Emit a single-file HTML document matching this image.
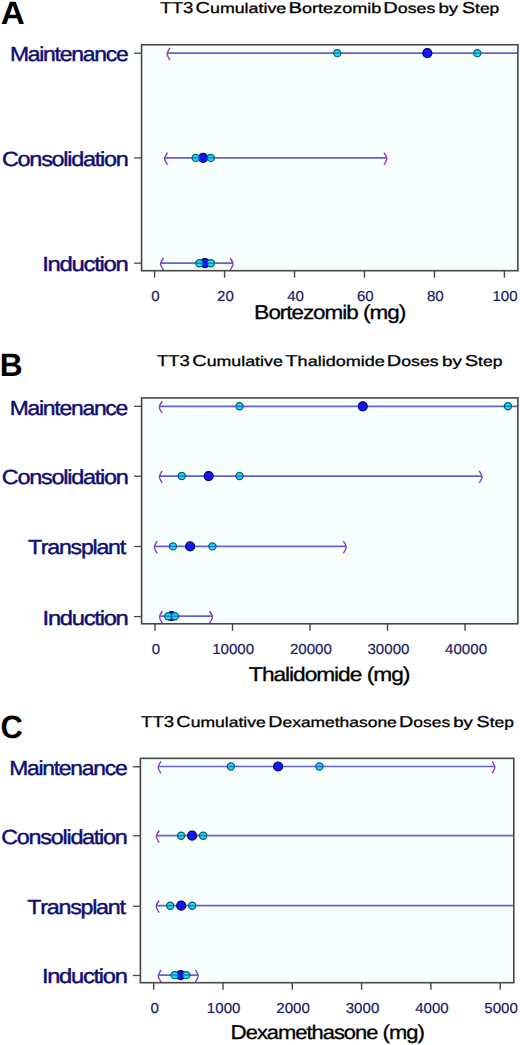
<!DOCTYPE html>
<html><head><meta charset="utf-8"><title>TT3 Cumulative Doses by Step</title>
<style>
html,body{margin:0;padding:0;background:#fff;}
body{width:520px;height:1045px;overflow:hidden;}
svg{display:block;font-family:"Liberation Sans", sans-serif;text-rendering:geometricPrecision;}
</style></head><body>
<svg width="520" height="1045" viewBox="0 0 520 1045">
<rect x="141.55" y="44.75" width="376.35" height="225.95" fill="#f6fffe"/>
<line x1="167.2" y1="53.15" x2="517.9" y2="53.15" stroke="#6462c8" stroke-width="1.7"/>
<path d="M170,47.95 C168,51 167.2,52.8 167.2,54 C167.2,55.2 168,57 170,60.05" fill="none" stroke="#8a3cc8" stroke-width="1.4"/>
<circle cx="427.3" cy="53.15" r="4.5" fill="#1616f0" stroke="#00006a" stroke-width="1.2"/>
<circle cx="337.3" cy="53.15" r="3.6" fill="#24d6f2" stroke="#00606e" stroke-width="1.2"/>
<line x1="334" y1="53.15" x2="340.6" y2="53.15" stroke="#1a50d0" stroke-width="1.3" opacity="0.75"/>
<circle cx="477.3" cy="53.15" r="3.6" fill="#24d6f2" stroke="#00606e" stroke-width="1.2"/>
<line x1="474" y1="53.15" x2="480.6" y2="53.15" stroke="#1a50d0" stroke-width="1.3" opacity="0.75"/>
<line x1="164.65" y1="157.9" x2="386.8" y2="157.9" stroke="#6462c8" stroke-width="1.7"/>
<path d="M167.45,152.7 C165.45,155.75 164.65,157.55 164.65,158.75 C164.65,159.95 165.45,161.75 167.45,164.8" fill="none" stroke="#8a3cc8" stroke-width="1.4"/>
<path d="M384,152.7 C386,155.75 386.8,157.55 386.8,158.75 C386.8,159.95 386,161.75 384,164.8" fill="none" stroke="#8a3cc8" stroke-width="1.4"/>
<circle cx="203.1" cy="157.9" r="4.5" fill="#1616f0" stroke="#00006a" stroke-width="1.2"/>
<circle cx="195.7" cy="157.9" r="3.6" fill="#24d6f2" stroke="#00606e" stroke-width="1.2"/>
<line x1="192.4" y1="157.9" x2="199" y2="157.9" stroke="#1a50d0" stroke-width="1.3" opacity="0.75"/>
<circle cx="210.8" cy="157.9" r="3.6" fill="#24d6f2" stroke="#00606e" stroke-width="1.2"/>
<line x1="207.5" y1="157.9" x2="214.1" y2="157.9" stroke="#1a50d0" stroke-width="1.3" opacity="0.75"/>
<line x1="160.6" y1="263.2" x2="233" y2="263.2" stroke="#6462c8" stroke-width="1.7"/>
<path d="M163.4,258 C161.4,261.05 160.6,262.85 160.6,264.05 C160.6,265.25 161.4,267.05 163.4,270.1" fill="none" stroke="#8a3cc8" stroke-width="1.4"/>
<path d="M230.2,258 C232.2,261.05 233,262.85 233,264.05 C233,265.25 232.2,267.05 230.2,270.1" fill="none" stroke="#8a3cc8" stroke-width="1.4"/>
<circle cx="204.9" cy="263.2" r="4.5" fill="#1616f0" stroke="#00006a" stroke-width="1.2"/>
<circle cx="199.3" cy="263.2" r="3.6" fill="#24d6f2" stroke="#00606e" stroke-width="1.2"/>
<line x1="196" y1="263.2" x2="202.6" y2="263.2" stroke="#1a50d0" stroke-width="1.3" opacity="0.75"/>
<circle cx="210.9" cy="263.2" r="3.6" fill="#24d6f2" stroke="#00606e" stroke-width="1.2"/>
<line x1="207.6" y1="263.2" x2="214.2" y2="263.2" stroke="#1a50d0" stroke-width="1.3" opacity="0.75"/>
<rect x="141.55" y="44.75" width="376.35" height="225.95" fill="none" stroke="#464646" stroke-width="1.6"/>
<line x1="134.05" y1="53.2" x2="141.55" y2="53.2" stroke="#464646" stroke-width="1.3"/>
<line x1="134.05" y1="157.9" x2="141.55" y2="157.9" stroke="#464646" stroke-width="1.3"/>
<line x1="134.05" y1="263.2" x2="141.55" y2="263.2" stroke="#464646" stroke-width="1.3"/>
<text transform="translate(9.88,61.1) scale(1.1234,1)" font-size="20.4" fill="#0e0e72" stroke="#0e0e72" stroke-width="0.42" letter-spacing="-1.1" style="font-kerning:none">Maintenance</text>
<text transform="translate(1.94,166) scale(1.1493,1)" font-size="20.4" fill="#0e0e72" stroke="#0e0e72" stroke-width="0.42" letter-spacing="-1.1" style="font-kerning:none">Consolidation</text>
<text transform="translate(42.26,271.2) scale(1.1704,1)" font-size="20.4" fill="#0e0e72" stroke="#0e0e72" stroke-width="0.42" letter-spacing="-1.1" style="font-kerning:none">Induction</text>
<line x1="154.6" y1="270.7" x2="154.6" y2="277.7" stroke="#464646" stroke-width="1.4"/>
<text transform="translate(151.32,301.2) scale(1.0400,1)" font-size="14.5" fill="#1c1c66" stroke="#1c1c66" stroke-width="0.2">0</text>
<line x1="224.56" y1="270.7" x2="224.56" y2="277.7" stroke="#464646" stroke-width="1.4"/>
<text transform="translate(217.02,301.2) scale(1.0400,1)" font-size="14.5" fill="#1c1c66" stroke="#1c1c66" stroke-width="0.2">20</text>
<line x1="294.52" y1="270.7" x2="294.52" y2="277.7" stroke="#464646" stroke-width="1.4"/>
<text transform="translate(287.16,301.2) scale(1.0400,1)" font-size="14.5" fill="#1c1c66" stroke="#1c1c66" stroke-width="0.2">40</text>
<line x1="364.48" y1="270.7" x2="364.48" y2="277.7" stroke="#464646" stroke-width="1.4"/>
<text transform="translate(356.94,301.2) scale(1.0400,1)" font-size="14.5" fill="#1c1c66" stroke="#1c1c66" stroke-width="0.2">60</text>
<line x1="434.44" y1="270.7" x2="434.44" y2="277.7" stroke="#464646" stroke-width="1.4"/>
<text transform="translate(426.93,301.2) scale(1.0400,1)" font-size="14.5" fill="#1c1c66" stroke="#1c1c66" stroke-width="0.2">80</text>
<line x1="504.4" y1="270.7" x2="504.4" y2="277.7" stroke="#464646" stroke-width="1.4"/>
<text transform="translate(492.48,301.2) scale(1.0400,1)" font-size="14.5" fill="#1c1c66" stroke="#1c1c66" stroke-width="0.2">100</text>
<text transform="translate(254.12,318.8) scale(1.1450,1)" fill="#000" stroke="#000" stroke-width="0.3" letter-spacing="-0.9" style="font-kerning:none"><tspan font-size="20">B</tspan><tspan font-size="19.6">ortezomib</tspan><tspan font-size="20"> (</tspan><tspan font-size="19.6">mg</tspan><tspan font-size="20">)</tspan></text>
<text transform="translate(160.28,13.2) scale(1.1774,1)" font-size="15.8" fill="#000" stroke="#000" stroke-width="0.3" style="font-kerning:none">TT3</text>
<text transform="translate(195.45,13.2) scale(1.2719,1)" fill="#000" stroke="#000" stroke-width="0.3" style="font-kerning:none"><tspan font-size="15.8">C</tspan><tspan font-size="14">umulative</tspan></text>
<text transform="translate(288.52,13.2) scale(1.2869,1)" fill="#000" stroke="#000" stroke-width="0.3" style="font-kerning:none"><tspan font-size="15.8">B</tspan><tspan font-size="14">ortezomib</tspan></text>
<text transform="translate(383.35,13.2) scale(1.2695,1)" fill="#000" stroke="#000" stroke-width="0.3" style="font-kerning:none"><tspan font-size="15.8">D</tspan><tspan font-size="14">oses</tspan></text>
<text transform="translate(438.43,13.2) scale(1.3400,1)" font-size="14" fill="#000" stroke="#000" stroke-width="0.3" style="font-kerning:none">by</text>
<text transform="translate(461.97,13.2) scale(1.2433,1)" fill="#000" stroke="#000" stroke-width="0.3" style="font-kerning:none"><tspan font-size="15.8">S</tspan><tspan font-size="14">tep</tspan></text>
<text transform="translate(0.87,23.5) scale(1.0337,1)" font-size="32.2" font-weight="bold" fill="#000">A</text>
<rect x="141.6" y="397.9" width="376.3" height="225.9" fill="#f6fffe"/>
<line x1="159.4" y1="406.3" x2="517.9" y2="406.3" stroke="#6462c8" stroke-width="1.7"/>
<path d="M162.2,401.1 C160.2,404.15 159.4,405.95 159.4,407.15 C159.4,408.35 160.2,410.15 162.2,413.2" fill="none" stroke="#8a3cc8" stroke-width="1.4"/>
<circle cx="362.8" cy="406.3" r="4.5" fill="#1616f0" stroke="#00006a" stroke-width="1.2"/>
<circle cx="239.5" cy="406.3" r="3.6" fill="#24d6f2" stroke="#00606e" stroke-width="1.2"/>
<line x1="236.2" y1="406.3" x2="242.8" y2="406.3" stroke="#1a50d0" stroke-width="1.3" opacity="0.75"/>
<circle cx="507.9" cy="406.3" r="3.6" fill="#24d6f2" stroke="#00606e" stroke-width="1.2"/>
<line x1="504.6" y1="406.3" x2="511.2" y2="406.3" stroke="#1a50d0" stroke-width="1.3" opacity="0.75"/>
<line x1="159.4" y1="476.05" x2="482" y2="476.05" stroke="#6462c8" stroke-width="1.7"/>
<path d="M162.2,470.85 C160.2,473.9 159.4,475.7 159.4,476.9 C159.4,478.1 160.2,479.9 162.2,482.95" fill="none" stroke="#8a3cc8" stroke-width="1.4"/>
<path d="M479.2,470.85 C481.2,473.9 482,475.7 482,476.9 C482,478.1 481.2,479.9 479.2,482.95" fill="none" stroke="#8a3cc8" stroke-width="1.4"/>
<circle cx="208.65" cy="476.05" r="4.5" fill="#1616f0" stroke="#00006a" stroke-width="1.2"/>
<circle cx="181.75" cy="476.05" r="3.6" fill="#24d6f2" stroke="#00606e" stroke-width="1.2"/>
<line x1="178.45" y1="476.05" x2="185.05" y2="476.05" stroke="#1a50d0" stroke-width="1.3" opacity="0.75"/>
<circle cx="239.5" cy="476.05" r="3.6" fill="#24d6f2" stroke="#00606e" stroke-width="1.2"/>
<line x1="236.2" y1="476.05" x2="242.8" y2="476.05" stroke="#1a50d0" stroke-width="1.3" opacity="0.75"/>
<line x1="154.4" y1="546.4" x2="346.2" y2="546.4" stroke="#6462c8" stroke-width="1.7"/>
<path d="M157.2,541.2 C155.2,544.25 154.4,546.05 154.4,547.25 C154.4,548.45 155.2,550.25 157.2,553.3" fill="none" stroke="#8a3cc8" stroke-width="1.4"/>
<path d="M343.4,541.2 C345.4,544.25 346.2,546.05 346.2,547.25 C346.2,548.45 345.4,550.25 343.4,553.3" fill="none" stroke="#8a3cc8" stroke-width="1.4"/>
<circle cx="190.1" cy="546.4" r="4.5" fill="#1616f0" stroke="#00006a" stroke-width="1.2"/>
<circle cx="172.9" cy="546.4" r="3.6" fill="#24d6f2" stroke="#00606e" stroke-width="1.2"/>
<line x1="169.6" y1="546.4" x2="176.2" y2="546.4" stroke="#1a50d0" stroke-width="1.3" opacity="0.75"/>
<circle cx="212.4" cy="546.4" r="3.6" fill="#24d6f2" stroke="#00606e" stroke-width="1.2"/>
<line x1="209.1" y1="546.4" x2="215.7" y2="546.4" stroke="#1a50d0" stroke-width="1.3" opacity="0.75"/>
<line x1="159.6" y1="616.2" x2="212.4" y2="616.2" stroke="#6462c8" stroke-width="1.7"/>
<path d="M162.4,611 C160.4,614.05 159.6,615.85 159.6,617.05 C159.6,618.25 160.4,620.05 162.4,623.1" fill="none" stroke="#8a3cc8" stroke-width="1.4"/>
<path d="M209.6,611 C211.6,614.05 212.4,615.85 212.4,617.05 C212.4,618.25 211.6,620.05 209.6,623.1" fill="none" stroke="#8a3cc8" stroke-width="1.4"/>
<circle cx="171.5" cy="616.2" r="4.5" fill="#1616f0" stroke="#00006a" stroke-width="1.2"/>
<circle cx="168.2" cy="616.2" r="3.6" fill="#24d6f2" stroke="#00606e" stroke-width="1.2"/>
<line x1="164.9" y1="616.2" x2="171.5" y2="616.2" stroke="#1a50d0" stroke-width="1.3" opacity="0.75"/>
<circle cx="174.9" cy="616.2" r="3.6" fill="#24d6f2" stroke="#00606e" stroke-width="1.2"/>
<line x1="171.6" y1="616.2" x2="178.2" y2="616.2" stroke="#1a50d0" stroke-width="1.3" opacity="0.75"/>
<rect x="141.6" y="397.9" width="376.3" height="225.9" fill="none" stroke="#464646" stroke-width="1.6"/>
<line x1="134.1" y1="406.35" x2="141.6" y2="406.35" stroke="#464646" stroke-width="1.3"/>
<line x1="134.1" y1="476.2" x2="141.6" y2="476.2" stroke="#464646" stroke-width="1.3"/>
<line x1="134.1" y1="546.5" x2="141.6" y2="546.5" stroke="#464646" stroke-width="1.3"/>
<line x1="134.1" y1="616.6" x2="141.6" y2="616.6" stroke="#464646" stroke-width="1.3"/>
<text transform="translate(9.68,414.7) scale(1.1214,1)" font-size="20.4" fill="#0e0e72" stroke="#0e0e72" stroke-width="0.42" letter-spacing="-1.1" style="font-kerning:none">Maintenance</text>
<text transform="translate(1.74,484.1) scale(1.1511,1)" font-size="20.4" fill="#0e0e72" stroke="#0e0e72" stroke-width="0.42" letter-spacing="-1.1" style="font-kerning:none">Consolidation</text>
<text transform="translate(27.93,554.4) scale(1.1359,1)" font-size="20.4" fill="#0e0e72" stroke="#0e0e72" stroke-width="0.42" letter-spacing="-1.1" style="font-kerning:none">Transplant</text>
<text transform="translate(42.57,624.7) scale(1.1662,1)" font-size="20.4" fill="#0e0e72" stroke="#0e0e72" stroke-width="0.42" letter-spacing="-1.1" style="font-kerning:none">Induction</text>
<line x1="155" y1="623.8" x2="155" y2="630.8" stroke="#464646" stroke-width="1.4"/>
<text transform="translate(151.72,654.3) scale(1.0400,1)" font-size="14.5" fill="#1c1c66" stroke="#1c1c66" stroke-width="0.2">0</text>
<line x1="232.51" y1="623.8" x2="232.51" y2="630.8" stroke="#464646" stroke-width="1.4"/>
<text transform="translate(212.19,654.3) scale(1.0400,1)" font-size="14.5" fill="#1c1c66" stroke="#1c1c66" stroke-width="0.2">10000</text>
<line x1="310.03" y1="623.8" x2="310.03" y2="630.8" stroke="#464646" stroke-width="1.4"/>
<text transform="translate(289.89,654.3) scale(1.0400,1)" font-size="14.5" fill="#1c1c66" stroke="#1c1c66" stroke-width="0.2">20000</text>
<line x1="387.54" y1="623.8" x2="387.54" y2="630.8" stroke="#464646" stroke-width="1.4"/>
<text transform="translate(367.48,654.3) scale(1.0400,1)" font-size="14.5" fill="#1c1c66" stroke="#1c1c66" stroke-width="0.2">30000</text>
<line x1="465.05" y1="623.8" x2="465.05" y2="630.8" stroke="#464646" stroke-width="1.4"/>
<text transform="translate(445.1,654.3) scale(1.0400,1)" font-size="14.5" fill="#1c1c66" stroke="#1c1c66" stroke-width="0.2">40000</text>
<text transform="translate(248.77,680.6) scale(1.1584,1)" fill="#000" stroke="#000" stroke-width="0.3" letter-spacing="-0.9" style="font-kerning:none"><tspan font-size="20">T</tspan><tspan font-size="19.6">halidomide</tspan><tspan font-size="20"> (</tspan><tspan font-size="19.6">mg</tspan><tspan font-size="20">)</tspan></text>
<text transform="translate(156.89,366.4) scale(1.1718,1)" font-size="15.8" fill="#000" stroke="#000" stroke-width="0.3" style="font-kerning:none">TT3</text>
<text transform="translate(192.15,366.4) scale(1.2705,1)" fill="#000" stroke="#000" stroke-width="0.3" style="font-kerning:none"><tspan font-size="15.8">C</tspan><tspan font-size="14">umulative</tspan></text>
<text transform="translate(285.14,366.4) scale(1.2893,1)" fill="#000" stroke="#000" stroke-width="0.3" style="font-kerning:none"><tspan font-size="15.8">T</tspan><tspan font-size="14">halidomide</tspan></text>
<text transform="translate(386.75,366.4) scale(1.2656,1)" fill="#000" stroke="#000" stroke-width="0.3" style="font-kerning:none"><tspan font-size="15.8">D</tspan><tspan font-size="14">oses</tspan></text>
<text transform="translate(441.92,366.4) scale(1.3472,1)" font-size="14" fill="#000" stroke="#000" stroke-width="0.3" style="font-kerning:none">by</text>
<text transform="translate(464.96,366.4) scale(1.2468,1)" fill="#000" stroke="#000" stroke-width="0.3" style="font-kerning:none"><tspan font-size="15.8">S</tspan><tspan font-size="14">tep</tspan></text>
<text transform="translate(-0.36,376) scale(0.9826,1)" font-size="32.2" font-weight="bold" fill="#000">B</text>
<rect x="140.4" y="758.35" width="373.4" height="224.35" fill="#f6fffe"/>
<line x1="158.2" y1="766.5" x2="494.9" y2="766.5" stroke="#6462c8" stroke-width="1.7"/>
<path d="M161,761.3 C159,764.35 158.2,766.15 158.2,767.35 C158.2,768.55 159,770.35 161,773.4" fill="none" stroke="#8a3cc8" stroke-width="1.4"/>
<path d="M492.1,761.3 C494.1,764.35 494.9,766.15 494.9,767.35 C494.9,768.55 494.1,770.35 492.1,773.4" fill="none" stroke="#8a3cc8" stroke-width="1.4"/>
<circle cx="278.1" cy="766.5" r="4.5" fill="#1616f0" stroke="#00006a" stroke-width="1.2"/>
<circle cx="230.9" cy="766.5" r="3.6" fill="#24d6f2" stroke="#00606e" stroke-width="1.2"/>
<line x1="227.6" y1="766.5" x2="234.2" y2="766.5" stroke="#1a50d0" stroke-width="1.3" opacity="0.75"/>
<circle cx="319.4" cy="766.5" r="3.6" fill="#24d6f2" stroke="#00606e" stroke-width="1.2"/>
<line x1="316.1" y1="766.5" x2="322.7" y2="766.5" stroke="#1a50d0" stroke-width="1.3" opacity="0.75"/>
<line x1="156.4" y1="835.7" x2="513.8" y2="835.7" stroke="#6462c8" stroke-width="1.7"/>
<path d="M159.2,830.5 C157.2,833.55 156.4,835.35 156.4,836.55 C156.4,837.75 157.2,839.55 159.2,842.6" fill="none" stroke="#8a3cc8" stroke-width="1.4"/>
<circle cx="192.1" cy="835.7" r="4.5" fill="#1616f0" stroke="#00006a" stroke-width="1.2"/>
<circle cx="181.1" cy="835.7" r="3.6" fill="#24d6f2" stroke="#00606e" stroke-width="1.2"/>
<line x1="177.8" y1="835.7" x2="184.4" y2="835.7" stroke="#1a50d0" stroke-width="1.3" opacity="0.75"/>
<circle cx="203.1" cy="835.7" r="3.6" fill="#24d6f2" stroke="#00606e" stroke-width="1.2"/>
<line x1="199.8" y1="835.7" x2="206.4" y2="835.7" stroke="#1a50d0" stroke-width="1.3" opacity="0.75"/>
<line x1="156.3" y1="905.7" x2="513.8" y2="905.7" stroke="#6462c8" stroke-width="1.7"/>
<path d="M159.1,900.5 C157.1,903.55 156.3,905.35 156.3,906.55 C156.3,907.75 157.1,909.55 159.1,912.6" fill="none" stroke="#8a3cc8" stroke-width="1.4"/>
<circle cx="181.2" cy="905.7" r="4.5" fill="#1616f0" stroke="#00006a" stroke-width="1.2"/>
<circle cx="170.2" cy="905.7" r="3.6" fill="#24d6f2" stroke="#00606e" stroke-width="1.2"/>
<line x1="166.9" y1="905.7" x2="173.5" y2="905.7" stroke="#1a50d0" stroke-width="1.3" opacity="0.75"/>
<circle cx="192.2" cy="905.7" r="3.6" fill="#24d6f2" stroke="#00606e" stroke-width="1.2"/>
<line x1="188.9" y1="905.7" x2="195.5" y2="905.7" stroke="#1a50d0" stroke-width="1.3" opacity="0.75"/>
<line x1="158.3" y1="975.15" x2="198.2" y2="975.15" stroke="#6462c8" stroke-width="1.7"/>
<path d="M161.1,969.95 C159.1,973 158.3,974.8 158.3,976 C158.3,977.2 159.1,979 161.1,982.05" fill="none" stroke="#8a3cc8" stroke-width="1.4"/>
<path d="M195.4,969.95 C197.4,973 198.2,974.8 198.2,976 C198.2,977.2 197.4,979 195.4,982.05" fill="none" stroke="#8a3cc8" stroke-width="1.4"/>
<circle cx="180.6" cy="975.15" r="4.5" fill="#1616f0" stroke="#00006a" stroke-width="1.2"/>
<circle cx="174.6" cy="975.15" r="3.6" fill="#24d6f2" stroke="#00606e" stroke-width="1.2"/>
<line x1="171.3" y1="975.15" x2="177.9" y2="975.15" stroke="#1a50d0" stroke-width="1.3" opacity="0.75"/>
<circle cx="186.3" cy="975.15" r="3.6" fill="#24d6f2" stroke="#00606e" stroke-width="1.2"/>
<line x1="183" y1="975.15" x2="189.6" y2="975.15" stroke="#1a50d0" stroke-width="1.3" opacity="0.75"/>
<rect x="140.4" y="758.35" width="373.4" height="224.35" fill="none" stroke="#464646" stroke-width="1.6"/>
<line x1="132.9" y1="766.8" x2="140.4" y2="766.8" stroke="#464646" stroke-width="1.3"/>
<line x1="132.9" y1="835.8" x2="140.4" y2="835.8" stroke="#464646" stroke-width="1.3"/>
<line x1="132.9" y1="906.2" x2="140.4" y2="906.2" stroke="#464646" stroke-width="1.3"/>
<line x1="132.9" y1="975.5" x2="140.4" y2="975.5" stroke="#464646" stroke-width="1.3"/>
<text transform="translate(9.18,774.8) scale(1.1195,1)" font-size="20.4" fill="#0e0e72" stroke="#0e0e72" stroke-width="0.42" letter-spacing="-1.1" style="font-kerning:none">Maintenance</text>
<text transform="translate(1.24,844.1) scale(1.1465,1)" font-size="20.4" fill="#0e0e72" stroke="#0e0e72" stroke-width="0.42" letter-spacing="-1.1" style="font-kerning:none">Consolidation</text>
<text transform="translate(27.33,914.2) scale(1.1406,1)" font-size="20.4" fill="#0e0e72" stroke="#0e0e72" stroke-width="0.42" letter-spacing="-1.1" style="font-kerning:none">Transplant</text>
<text transform="translate(41.88,983.2) scale(1.1620,1)" font-size="20.4" fill="#0e0e72" stroke="#0e0e72" stroke-width="0.42" letter-spacing="-1.1" style="font-kerning:none">Induction</text>
<line x1="153.7" y1="982.7" x2="153.7" y2="989.7" stroke="#464646" stroke-width="1.4"/>
<text transform="translate(150.42,1013) scale(1.0400,1)" font-size="14.5" fill="#1c1c66" stroke="#1c1c66" stroke-width="0.2">0</text>
<line x1="223" y1="982.7" x2="223" y2="989.7" stroke="#464646" stroke-width="1.4"/>
<text transform="translate(206.86,1013) scale(1.0400,1)" font-size="14.5" fill="#1c1c66" stroke="#1c1c66" stroke-width="0.2">1000</text>
<line x1="292.3" y1="982.7" x2="292.3" y2="989.7" stroke="#464646" stroke-width="1.4"/>
<text transform="translate(276.35,1013) scale(1.0400,1)" font-size="14.5" fill="#1c1c66" stroke="#1c1c66" stroke-width="0.2">2000</text>
<line x1="361.6" y1="982.7" x2="361.6" y2="989.7" stroke="#464646" stroke-width="1.4"/>
<text transform="translate(345.72,1013) scale(1.0400,1)" font-size="14.5" fill="#1c1c66" stroke="#1c1c66" stroke-width="0.2">3000</text>
<line x1="430.9" y1="982.7" x2="430.9" y2="989.7" stroke="#464646" stroke-width="1.4"/>
<text transform="translate(415.14,1013) scale(1.0400,1)" font-size="14.5" fill="#1c1c66" stroke="#1c1c66" stroke-width="0.2">4000</text>
<line x1="500.2" y1="982.7" x2="500.2" y2="989.7" stroke="#464646" stroke-width="1.4"/>
<text transform="translate(484.32,1013) scale(1.0400,1)" font-size="14.5" fill="#1c1c66" stroke="#1c1c66" stroke-width="0.2">5000</text>
<text transform="translate(230.56,1038.5) scale(1.1183,1)" fill="#000" stroke="#000" stroke-width="0.3" letter-spacing="-0.9" style="font-kerning:none"><tspan font-size="20">D</tspan><tspan font-size="19.6">examethasone</tspan><tspan font-size="20"> (</tspan><tspan font-size="19.6">mg</tspan><tspan font-size="20">)</tspan></text>
<text transform="translate(141.09,727) scale(1.1718,1)" font-size="15.8" fill="#000" stroke="#000" stroke-width="0.3" style="font-kerning:none">TT3</text>
<text transform="translate(176.31,727) scale(1.2541,1)" fill="#000" stroke="#000" stroke-width="0.3" style="font-kerning:none"><tspan font-size="15.8">C</tspan><tspan font-size="14">umulative</tspan></text>
<text transform="translate(268.28,727) scale(1.2443,1)" fill="#000" stroke="#000" stroke-width="0.3" style="font-kerning:none"><tspan font-size="15.8">D</tspan><tspan font-size="14">examethasone</tspan></text>
<text transform="translate(399.08,727) scale(1.2452,1)" fill="#000" stroke="#000" stroke-width="0.3" style="font-kerning:none"><tspan font-size="15.8">D</tspan><tspan font-size="14">oses</tspan></text>
<text transform="translate(453.24,727) scale(1.3327,1)" font-size="14" fill="#000" stroke="#000" stroke-width="0.3" style="font-kerning:none">by</text>
<text transform="translate(476.57,727) scale(1.2433,1)" fill="#000" stroke="#000" stroke-width="0.3" style="font-kerning:none"><tspan font-size="15.8">S</tspan><tspan font-size="14">tep</tspan></text>
<text transform="translate(0.47,737.6) scale(0.9578,1)" font-size="32.2" font-weight="bold" fill="#000">C</text>
</svg>
</body></html>
